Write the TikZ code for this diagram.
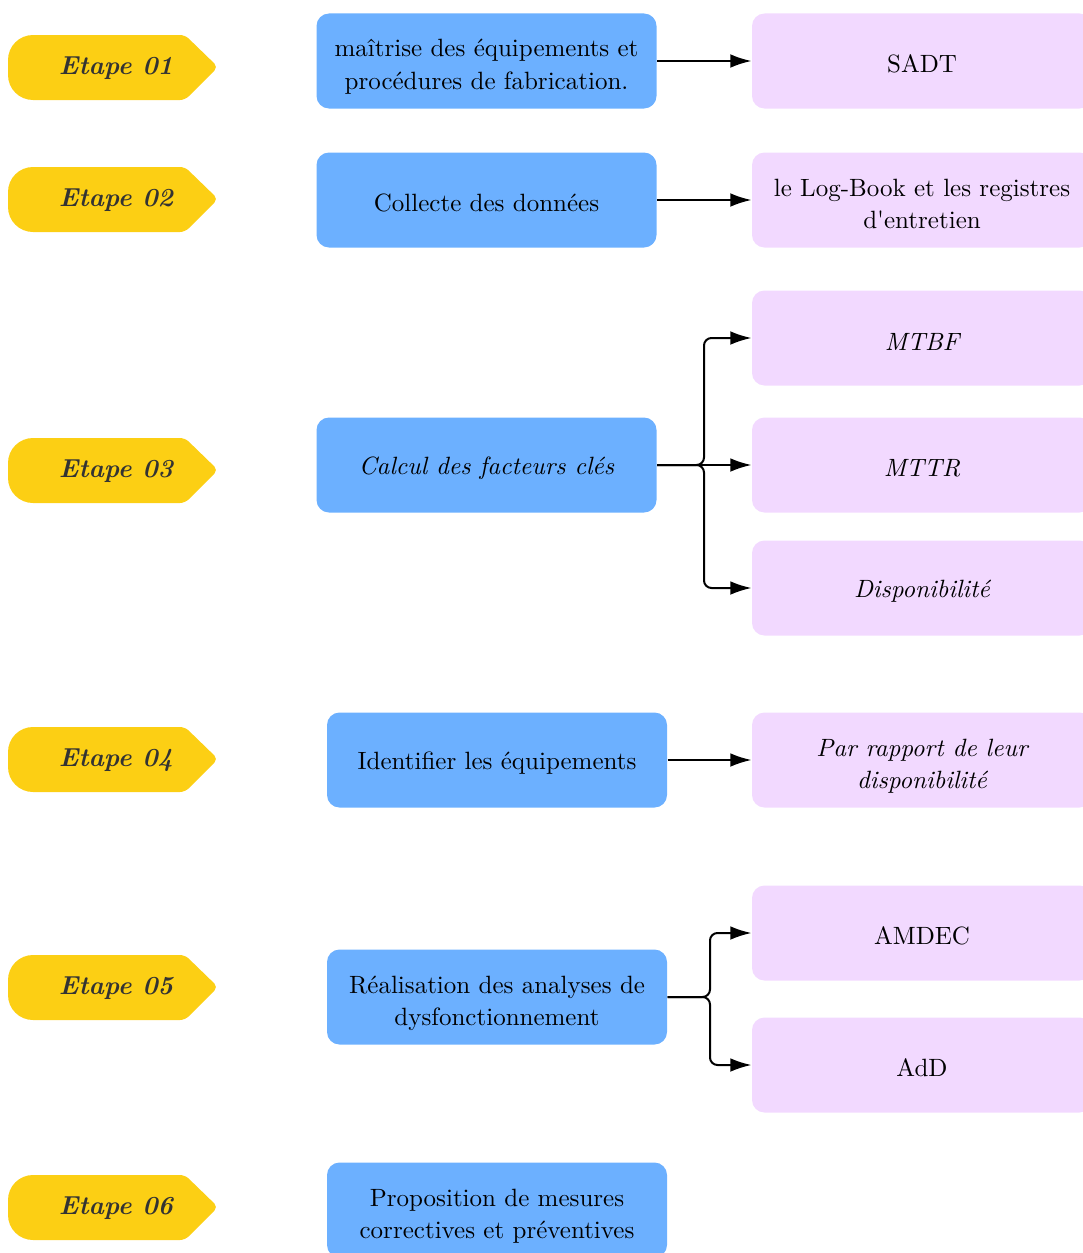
\documentclass[tikz,border=0pt]{standalone}
\usepackage{fontspec}
\usetikzlibrary{arrows.meta}
\definecolor{etapeY}{HTML}{FCCF14}
\definecolor{boxB}{HTML}{6CB0FF}
\definecolor{boxP}{HTML}{F2D9FF}
\definecolor{etxt}{HTML}{333333}
\newcommand\twolines[2]{\raisebox{-2.3pt}[\height][\depth]{\begin{tabular}{@{}c@{}}#1\\#2\end{tabular}}}
\begin{document}
\begin{tikzpicture}[x=0.4pt,y=-0.4pt,
  basebox/.style={rounded corners=5pt, minimum width=136pt, minimum height=38pt, align=center, inner sep=0pt,
     font=\fontsize{10}{13}\selectfont, execute at begin node={\rule{0pt}{9.6pt}}},
  bluebox/.style={basebox, fill=boxB},
  pinkbox/.style={basebox, fill=boxP},
  etape/.style={text=etxt, font=\fontsize{10.4}{12}\selectfont\bfseries\itshape, inner sep=0pt},
  conn/.style={-{Latex[length=8.5pt,width=5.5pt]}, line width=0.8pt, rounded corners=3pt}]
\useasboundingbox (0,0) rectangle (1082,1253);
% Etape tags
\foreach \n/\cy in {01/67,02/199,03/470,04/759,05/987,06/1207} {
  \fill[etapeY] (185,\cy-32) [rounded corners=2pt] -- (218,\cy) -- (185,\cy+33)
     [rounded corners=10pt] -- (8,\cy+33) -- (8,\cy-32) [rounded corners=2pt] -- cycle;
  \node[etape] (e\n) at (116,\cy+1) {Etape \n};
}
% blue boxes
\node[bluebox] (b1) at (486.5,61) {\twolines{maîtrise des équipements et}{procédures de fabrication.}};
\node[bluebox] (b2) at (486.5,200) {Collecte des données};
\node[bluebox] (b3) at (486.5,465) {\itshape Calcul des facteurs clés};
\node[bluebox] (b4) at (497,760) {Identifier les équipements};
\node[bluebox] (b5) at (497,997) {\twolines{Réalisation des analyses de}{dysfonctionnement}};
\node[bluebox] (b6) at (497,1210) {\twolines{Proposition de mesures}{correctives et préventives}};
% pink boxes
\node[pinkbox] (p1) at (922,61) {SADT};
\node[pinkbox] (p2) at (922,200) {\twolines{le Log-Book et les registres}{d\textquotesingle entretien}};
\node[pinkbox] (p3) at (922,338) {\itshape MTBF};
\node[pinkbox] (p4) at (922,465) {\itshape MTTR};
\node[pinkbox] (p5) at (922,588) {\itshape Disponibilité};
\node[pinkbox] (p6) at (922,760) {\itshape\twolines{Par rapport de leur}{disponibilité}};
\node[pinkbox] (p7) at (922,933) {AMDEC};
\node[pinkbox] (p8) at (922,1065) {AdD};
% junctions
\coordinate (j3) at (704,465);
\coordinate (j5) at (710,997);
% connectors
\draw[conn] (b1.east) -- (p1.west);
\draw[conn] (b2.east) -- (p2.west);
\draw[conn] (b3.east) -- (j3) |- (p3.west);
\draw[conn] (b3.east) -- (p4.west);
\draw[conn] (b3.east) -- (j3) |- (p5.west);
\draw[conn] (b4.east) -- (p6.west);
\draw[conn] (b5.east) -- (j5) |- (p7.west);
\draw[conn] (b5.east) -- (j5) |- (p8.west);
\end{tikzpicture}
\end{document}
